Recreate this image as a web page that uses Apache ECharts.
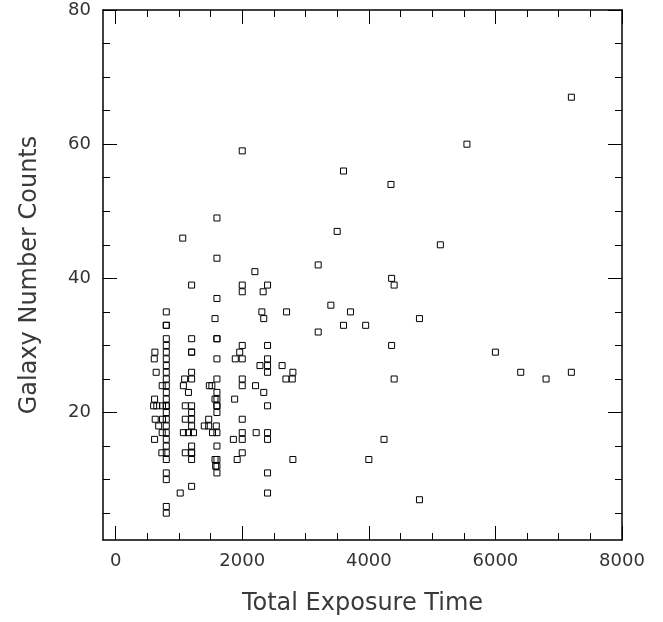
<!DOCTYPE html>
<html lang="en">
<head>
<meta charset="UTF-8">
<title>galaxy-counts</title>
<script src="https://cdn.jsdelivr.net/npm/echarts@6/dist/echarts.min.js"></script>
<style>
    html, body { margin: 0; padding: 0; background: #fff; }
    #chart { width: 663px; height: 622px; }
</style>
</head>
<body>
<div id="chart"></div>
<script>
// x: total exposure time, y: galaxy number counts (column by column)
var exposureTime = [
    620, 610, 640, 615, 600, 650, 625, 615, 735, 740, 740, 680, 735, 730,
    800, 800, 800, 800, 800, 800, 800, 800, 800, 800, 800, 800, 800, 800,
    800, 800, 800, 800, 800, 800, 800, 800, 800, 800, 800, 800, 800,
    1060, 1090, 1070, 1100, 1100, 1070, 1150, 1100, 1020, 1150,
    1200, 1200, 1200, 1200, 1200, 1200, 1200, 1200, 1200, 1200, 1230, 1200, 1200, 1200, 1200, 1200,
    1480, 1520, 1470, 1400, 1470, 1530,
    1600, 1600, 1600, 1570, 1600, 1600, 1600, 1600, 1600, 1570, 1600,
    1600, 1600, 1600, 1590, 1600, 1600, 1570, 1600, 1580, 1600, 1600,
    1890, 1960, 1880, 1860, 1920,
    2000, 2000, 2000, 2000, 2000, 2000, 2000, 2000, 2000, 2000, 2000,
    2200, 2210, 2220,
    2330, 2310, 2340, 2280, 2340,
    2400, 2400, 2400, 2400, 2400, 2400, 2400, 2400, 2400, 2400,
    2700, 2630, 2800, 2690, 2790, 2800,
    3200, 3200, 3400, 3500, 3600, 3600, 3710, 3950, 4000, 4240, 4350, 4360,
    4400, 4360, 4400, 4800, 4800, 5130, 5550, 6000, 6400, 6800, 7200, 7200
];
var galaxyCounts = [
    29, 28, 26, 22, 21, 21, 19, 16, 24, 21, 19, 18, 17, 14,
    35, 33, 33, 31, 30, 29, 28, 27, 26, 25, 24, 23, 22, 21,
    21, 20, 19, 18, 17, 16, 15, 14, 13, 11, 10, 6, 5,
    46, 25, 24, 21, 19, 17, 17, 14, 8, 23,
    39, 31, 29, 29, 26, 25, 21, 20, 19, 18, 17, 15, 14, 14, 13, 9,
    24, 24, 19, 18, 18, 17,
    49, 43, 37, 34, 31, 31, 28, 25, 23, 22, 22,
    21, 21, 20, 18, 17, 15, 13, 13, 12, 12, 11,
    28, 29, 22, 16, 13,
    59, 39, 38, 30, 28, 25, 24, 19, 17, 16, 14,
    41, 24, 17,
    38, 35, 34, 27, 23,
    39, 30, 28, 27, 26, 21, 17, 16, 11, 8,
    35, 27, 26, 25, 25, 13,
    42, 32, 36, 47, 56, 33, 35, 33, 13, 16, 54, 40,
    39, 30, 25, 34, 7, 45, 60, 29, 26, 25, 26, 67
];

var xMajorTicks = [0, 2000, 4000, 6000, 8000];
var xMinorTicks = [0, 500, 1000, 1500, 2000, 2500, 3000, 3500, 4000, 4500, 5000, 5500, 6000, 6500, 7000, 7500, 8000];
var yMajorTicks = [20, 40, 60, 80];
var yMinorTicks = [5, 10, 15, 20, 25, 30, 35, 40, 45, 50, 55, 60, 65, 70, 75, 80];

var font = 'DejaVu Sans';
var ink = '#000';

var chart = echarts.init(document.getElementById('chart'));

// one axis per side and per tick size, all sharing the same range
function makeAxis(dim, pos, ticks, len, withLine, withLabel) {
    return {
        type: 'value',
        position: pos,
        min: dim === 'x' ? -200 : 1,
        max: dim === 'x' ? 8000 : 80,
        splitLine: { show: false },
        axisLine: { show: withLine, onZero: false, lineStyle: { color: ink, width: 1.5 } },
        axisTick: { show: true, inside: true, length: len, customValues: ticks,
                    lineStyle: { color: ink, width: 1 } },
        axisLabel: { show: withLabel, customValues: ticks, color: '#333',
                     fontFamily: font, fontSize: 18, margin: 12,
                     formatter: function (v) { return String(v); } }
    };
}

var xBottom = makeAxis('x', 'bottom', xMajorTicks, 14, true, true);
xBottom.name = 'Total Exposure Time';
xBottom.nameLocation = 'middle';
xBottom.nameGap = 52;
xBottom.nameTextStyle = { fontFamily: font, fontSize: 24, color: '#3a3a3a' };

var yLeft = makeAxis('y', 'left', yMajorTicks, 14, true, true);
yLeft.name = 'Galaxy Number Counts';
yLeft.nameLocation = 'middle';
yLeft.nameGap = 61;
yLeft.nameTextStyle = { fontFamily: font, fontSize: 24, color: '#3a3a3a' };

var points = exposureTime.map(function (t, i) { return [t, galaxyCounts[i]]; });

var options = {
    animation: false,
    backgroundColor: '#fff',
    grid: { left: 103, right: 41, top: 10, bottom: 82 },
    xAxis: [
        xBottom,
        makeAxis('x', 'bottom', xMinorTicks, 7, false, false),
        makeAxis('x', 'top', xMajorTicks, 14, true, false),
        makeAxis('x', 'top', xMinorTicks, 7, false, false)
    ],
    yAxis: [
        yLeft,
        makeAxis('y', 'left', yMinorTicks, 7, false, false),
        makeAxis('y', 'right', yMajorTicks, 14, true, false),
        makeAxis('y', 'right', yMinorTicks, 7, false, false)
    ],
    series: [{
        type: 'scatter',
        xAxisIndex: 0,
        yAxisIndex: 0,
        symbol: 'rect',
        symbolSize: 6,
        itemStyle: { color: 'rgba(0,0,0,0)', borderColor: '#000', borderWidth: 1, opacity: 1 },
        data: points
    }]
};

chart.setOption(options);
</script>
</body>
</html>
